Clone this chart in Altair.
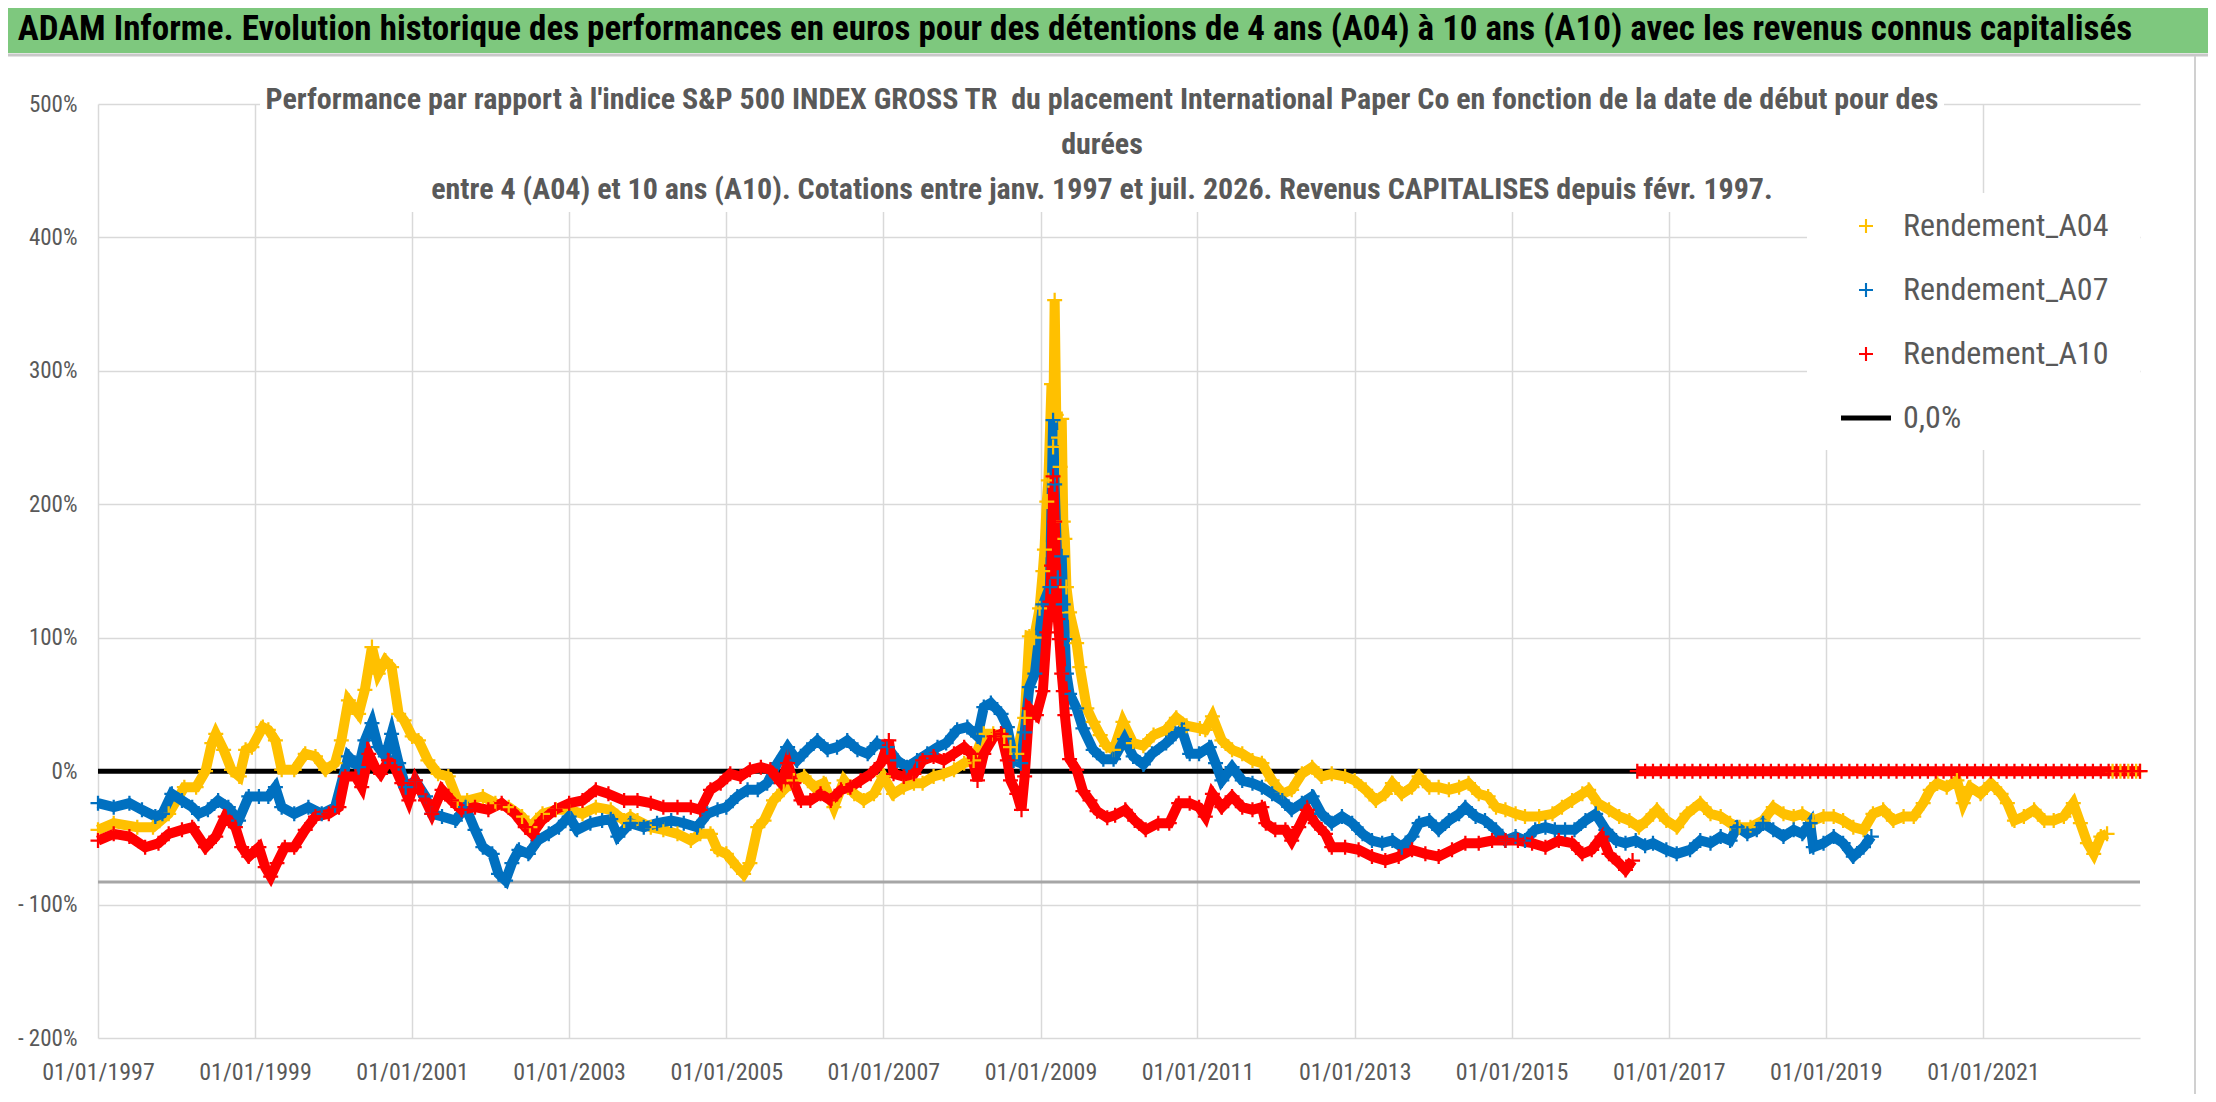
import altair as alt
import pandas as pd

# ---------------- texts ----------------
TITLE = ("ADAM Informe. Evolution historique des performances en euros pour des détentions "
         "de 4 ans (A04) à 10 ans (A10) avec les revenus connus capitalisés")
SUBTITLE_LINES = [
    "Performance par rapport à l'indice S&P 500 INDEX GROSS TR \u00a0du placement International Paper Co "
    "en fonction de la date de début pour des",
    "durées",
    "entre 4 (A04) et 10 ans (A10). Cotations entre janv. 1997 et juil. 2026. "
    "Revenus CAPITALISES depuis févr. 1997.",
]
SERIES = ["Rendement_A04", "Rendement_A07", "Rendement_A10", "0,0%"]
COLORS = ["#FFC000", "#0070C0", "#FF0000", "#000000"]
X_TICK_YEARS = [1997, 1999, 2001, 2003, 2005, 2007, 2009, 2011, 2013, 2015, 2017, 2019, 2021]
Y_TICKS = [-200, -100, 0, 100, 200, 300, 400, 500]
ZERO_LINE = [0]
GREY_LINE = [-83]

# ---------------- series (decimal year, % performance) ----------------
a04_t = [1997.0, 1997.2, 1997.5, 1997.7, 1997.9, 1998.1, 1998.25, 1998.37, 1998.45, 1998.5,
         1998.6, 1998.7, 1998.8, 1998.88, 1998.96, 1999.1, 1999.17, 1999.26, 1999.34, 1999.5,
         1999.64, 1999.77, 1999.9, 2000.02, 2000.1, 2000.19, 2000.32, 2000.4, 2000.49, 2000.57,
         2000.66, 2000.74, 2000.83, 2000.9, 2001.0, 2001.08, 2001.2, 2001.33, 2001.46, 2001.58,
         2001.7, 2001.9, 2002.06, 2002.23, 2002.4, 2002.5, 2002.66, 2002.83, 2003.0, 2003.17,
         2003.34, 2003.53, 2003.7, 2003.78, 2003.87, 2004.04, 2004.2, 2004.38, 2004.55, 2004.67,
         2004.8, 2004.89, 2005.0, 2005.14, 2005.22, 2005.3, 2005.4, 2005.48, 2005.6, 2005.73,
         2005.86, 2005.99, 2006.12, 2006.24, 2006.37, 2006.5, 2006.63, 2006.75, 2006.88, 2007.0,
         2007.13, 2007.26, 2007.39, 2007.5, 2007.64, 2007.77, 2007.9, 2008.03, 2008.15, 2008.28,
         2008.4, 2008.54, 2008.62, 2008.7, 2008.8, 2008.86, 2008.92, 2008.99, 2009.03, 2009.05,
         2009.08, 2009.1, 2009.14, 2009.16, 2009.18, 2009.2, 2009.23, 2009.25, 2009.27, 2009.29,
         2009.31, 2009.33, 2009.37, 2009.46, 2009.5, 2009.59, 2009.67, 2009.76, 2009.84, 2009.93,
         2010.05, 2010.18, 2010.31, 2010.44, 2010.6, 2010.73, 2010.86, 2011.03, 2011.1, 2011.19,
         2011.31, 2011.44, 2011.57, 2011.7, 2011.82, 2011.95, 2012.08, 2012.2, 2012.33, 2012.46,
         2012.58, 2012.71, 2012.88, 2013.0, 2013.14, 2013.27, 2013.39, 2013.48, 2013.6, 2013.73,
         2013.82, 2013.95, 2014.07, 2014.2, 2014.33, 2014.45, 2014.58, 2014.7, 2014.8, 2014.92,
         2015.05, 2015.17, 2015.35, 2015.52, 2015.64, 2015.77, 2015.9, 2015.98, 2016.1, 2016.24,
         2016.37, 2016.5, 2016.62, 2016.72, 2016.85, 2016.97, 2017.1, 2017.23, 2017.4, 2017.53,
         2017.66, 2017.78, 2017.9, 2018.04, 2018.2, 2018.33, 2018.46, 2018.59, 2018.7, 2018.84,
         2018.97, 2019.1, 2019.22, 2019.35, 2019.48, 2019.6, 2019.73, 2019.86, 2019.99, 2020.12,
         2020.24, 2020.33, 2020.42, 2020.54, 2020.67, 2020.75, 2020.84, 2020.97, 2021.1, 2021.23,
         2021.31, 2021.4, 2021.52, 2021.65, 2021.78, 2021.9, 2022.03, 2022.15, 2022.24, 2022.33,
         2022.41, 2022.5, 2022.58]
a04_v = [-44, -39, -42, -42, -32, -12, -12, 0, 21, 28,
         16, 1, -4, 16, 18, 33, 31, 23, 1, 1,
         13, 11, 1, 6, 23, 53, 43, 61, 93, 73,
         83, 78, 43, 38, 26, 23, 8, -2, -4, -22,
         -22, -19, -24, -27, -34, -42, -32, -29, -29, -32,
         -27, -29, -37, -34, -37, -42, -44, -47, -52, -47,
         -47, -59, -62, -72, -77, -69, -42, -37, -22, -14,
         -7, -4, -12, -9, -27, -7, -17, -22, -17, -4,
         -17, -12, -9, -9, -4, -2, 1, 6, 8, 28,
         28, 26, 18, 13, 40, 101, 100, 122, 150, 166,
         202, 218, 290, 243, 353, 267, 250, 228, 264, 187,
         174, 138, 119, 96, 78, 47, 37, 27, 19, 16,
         37, 21, 19, 27, 31, 40, 34, 32, 31, 41,
         23, 16, 13, 8, 6, -7, -17, -14, -2, 3,
         -4, -2, -4, -7, -14, -22, -17, -9, -17, -12,
         -4, -12, -12, -14, -12, -9, -17, -19, -27, -29,
         -32, -34, -34, -32, -27, -22, -17, -14, -24, -29,
         -34, -37, -42, -37, -29, -37, -42, -32, -24, -32,
         -34, -39, -42, -42, -37, -27, -32, -34, -32, -37,
         -34, -34, -37, -42, -44, -32, -29, -37, -34, -34,
         -24, -14, -9, -12, -7, -24, -12, -17, -9, -17,
         -24, -37, -34, -29, -37, -37, -34, -24, -39, -54,
         -62, -49, -47]
a04_tail_t = [2022.65, 2022.75, 2022.85, 2022.95, 2023.0]
a04_tail_v = [0, 0, 0, 0, 0]

a07_t = [1997.0, 1997.2, 1997.4, 1997.56, 1997.73, 1997.82, 1997.94, 1998.07, 1998.2, 1998.28,
         1998.4, 1998.53, 1998.66, 1998.79, 1998.92, 1999.05, 1999.17, 1999.26, 1999.34, 1999.5,
         1999.68, 1999.85, 2000.02, 2000.19, 2000.32, 2000.4, 2000.49, 2000.57, 2000.66, 2000.74,
         2000.83, 2000.92, 2001.04, 2001.17, 2001.25, 2001.38, 2001.55, 2001.68, 2001.8, 2001.9,
         2002.02, 2002.1, 2002.19, 2002.27, 2002.36, 2002.48, 2002.6, 2002.74, 2002.87, 2003.0,
         2003.1, 2003.27, 2003.42, 2003.53, 2003.62, 2003.78, 2003.95, 2004.12, 2004.3, 2004.46,
         2004.63, 2004.76, 2004.89, 2005.0, 2005.14, 2005.27, 2005.4, 2005.52, 2005.65, 2005.78,
         2005.9, 2006.03, 2006.16, 2006.29, 2006.41, 2006.54, 2006.67, 2006.8, 2006.92, 2007.05,
         2007.18, 2007.3, 2007.43, 2007.56, 2007.69, 2007.8, 2007.94, 2008.07, 2008.2, 2008.28,
         2008.37, 2008.5, 2008.58, 2008.66, 2008.75, 2008.8, 2008.86, 2008.93, 2009.03, 2009.12,
         2009.16, 2009.18, 2009.22, 2009.27, 2009.29, 2009.31, 2009.33, 2009.37, 2009.46, 2009.54,
         2009.67, 2009.8, 2009.93, 2010.07, 2010.18, 2010.31, 2010.42, 2010.6, 2010.72, 2010.8,
         2010.9, 2011.02, 2011.15, 2011.23, 2011.31, 2011.44, 2011.57, 2011.7, 2011.82, 2011.95,
         2012.08, 2012.2, 2012.33, 2012.46, 2012.58, 2012.71, 2012.84, 2012.97, 2013.1, 2013.22,
         2013.35, 2013.48, 2013.6, 2013.73, 2013.82, 2013.95, 2014.07, 2014.2, 2014.33, 2014.41,
         2014.54, 2014.66, 2014.8, 2014.92, 2015.05, 2015.17, 2015.3, 2015.43, 2015.55, 2015.68,
         2015.8, 2015.94, 2016.07, 2016.2, 2016.33, 2016.45, 2016.58, 2016.7, 2016.8, 2016.97,
         2017.1, 2017.27, 2017.4, 2017.53, 2017.66, 2017.78, 2017.87, 2018.0, 2018.12, 2018.2,
         2018.33, 2018.46, 2018.59, 2018.7, 2018.8, 2018.84, 2018.97, 2019.1, 2019.22, 2019.35,
         2019.48, 2019.58]
a07_v = [-24, -27, -24, -29, -34, -32, -17, -22, -27, -32,
         -29, -22, -27, -37, -19, -19, -19, -12, -27, -32,
         -27, -32, -27, 11, 3, 23, 36, 18, 11, 28,
         6, -12, -7, -19, -32, -34, -37, -27, -44, -57,
         -62, -77, -82, -69, -59, -62, -52, -47, -42, -34,
         -44, -39, -37, -36, -49, -39, -42, -39, -37, -39,
         -42, -32, -29, -27, -19, -14, -14, -9, 6, 18,
         8, 16, 23, 16, 18, 23, 16, 13, 21, 18,
         8, 3, 8, 13, 18, 21, 31, 33, 26, 48,
         51, 43, 33, 8, 6, 29, 63, 73, 125, 138,
         263, 215, 145, 161, 125, 99, 73, 58, 47, 32,
         16, 9, 9, 24, 11, 5, 13, 21, 28, 31,
         13, 13, 18, 6, -7, 3, -7, -9, -12, -17,
         -22, -29, -24, -19, -32, -39, -34, -39, -47, -52,
         -54, -52, -57, -49, -39, -37, -44, -37, -32, -27,
         -34, -37, -44, -52, -49, -52, -44, -42, -44, -44,
         -44, -37, -32, -44, -52, -54, -52, -56, -54, -59,
         -62, -59, -52, -54, -49, -52, -42, -47, -44, -39,
         -44, -49, -44, -47, -39, -57, -54, -49, -54, -64,
         -57, -49]

a10_t = [1997.0, 1997.2, 1997.4, 1997.6, 1997.77, 1997.9, 1998.07, 1998.2, 1998.37, 1998.5,
         1998.62, 1998.75, 1998.83, 1998.92, 1999.05, 1999.13, 1999.2, 1999.28, 1999.38, 1999.5,
         1999.64, 1999.77, 1999.94, 2000.07, 2000.15, 2000.28, 2000.36, 2000.45, 2000.53, 2000.6,
         2000.7, 2000.78, 2000.87, 2000.96, 2001.04, 2001.17, 2001.25, 2001.38, 2001.5, 2001.63,
         2001.8, 2001.97, 2002.14, 2002.31, 2002.44, 2002.53, 2002.65, 2002.82, 2003.0, 2003.17,
         2003.34, 2003.5, 2003.7, 2003.87, 2004.04, 2004.2, 2004.38, 2004.55, 2004.67, 2004.8,
         2004.93, 2005.05, 2005.18, 2005.3, 2005.44, 2005.56, 2005.7, 2005.78, 2005.86, 2005.95,
         2006.07, 2006.2, 2006.33, 2006.46, 2006.58, 2006.71, 2006.84, 2006.97, 2007.07, 2007.13,
         2007.26, 2007.39, 2007.5, 2007.64, 2007.77, 2007.9, 2008.03, 2008.12, 2008.2, 2008.28,
         2008.41, 2008.5, 2008.58, 2008.62, 2008.7, 2008.76, 2008.8, 2008.86, 2008.95, 2009.03,
         2009.08, 2009.12, 2009.14, 2009.16, 2009.18, 2009.22, 2009.24, 2009.27, 2009.29, 2009.31,
         2009.37, 2009.46, 2009.54, 2009.63, 2009.72, 2009.85, 2009.95, 2010.08, 2010.2, 2010.34,
         2010.5, 2010.64, 2010.76, 2010.9, 2011.02, 2011.1, 2011.19, 2011.31, 2011.44, 2011.57,
         2011.7, 2011.82, 2011.87, 2011.99, 2012.12, 2012.2, 2012.29, 2012.4, 2012.5, 2012.63,
         2012.71, 2012.88, 2013.05, 2013.22, 2013.39, 2013.56, 2013.73, 2013.9, 2014.07, 2014.24,
         2014.41, 2014.58, 2014.75, 2014.92, 2015.08, 2015.26, 2015.43, 2015.6, 2015.77, 2015.9,
         2016.02, 2016.15, 2016.24, 2016.37, 2016.45, 2016.54]
a10_v = [-52, -47, -49, -57, -54, -47, -44, -42, -57, -49,
         -34, -42, -57, -64, -57, -72, -79, -69, -57, -57,
         -44, -34, -32, -27, -4, -4, -12, 13, 3, -2,
         8, 3, -9, -22, -7, -22, -32, -14, -22, -29,
         -27, -29, -24, -32, -42, -47, -37, -29, -24, -22,
         -14, -17, -22, -22, -24, -27, -27, -27, -29, -14,
         -9, -2, -4, 1, 3, 1, -9, 6, -9, -22,
         -22, -17, -22, -14, -12, -7, -2, 6, 23, -2,
         -4, -2, 8, 11, 8, 13, 18, 13, -7, 13,
         26, 28, 8, -7, -17, -29, -4, 47, 42, 60,
         104, 127, 154, 221, 187, 114, 99, 73, 60, 42,
         9, 1, -15, -22, -30, -35, -33, -29, -37, -44,
         -39, -39, -24, -24, -27, -34, -17, -27, -19, -27,
         -29, -27, -39, -44, -44, -52, -42, -29, -39, -47,
         -57, -57, -59, -64, -67, -64, -59, -62, -64, -59,
         -54, -54, -52, -52, -52, -54, -57, -52, -54, -62,
         -59, -49, -62, -69, -74, -67]
a10_tail_t = [2016.6, 2016.7, 2016.8, 2016.9, 2017.0, 2017.1, 2017.2, 2017.3, 2017.4, 2017.5,
              2017.6, 2017.7, 2017.8, 2017.9, 2018.0, 2018.1, 2018.2, 2018.3, 2018.4, 2018.5,
              2018.6, 2018.7, 2018.8, 2018.9, 2019.0, 2019.1, 2019.2, 2019.3, 2019.4, 2019.5,
              2019.6, 2019.7, 2019.8, 2019.9, 2020.0, 2020.1, 2020.2, 2020.3, 2020.4, 2020.5,
              2020.6, 2020.7, 2020.8, 2020.9, 2021.0, 2021.1, 2021.2, 2021.3, 2021.4, 2021.5,
              2021.6, 2021.7, 2021.8, 2021.9, 2022.0, 2022.1, 2022.2, 2022.3, 2022.4, 2022.5,
              2022.6, 2022.7, 2022.8, 2022.9, 2023.0]
a10_tail_v = [0] * len(a10_tail_t)


def to_iso(y):
    year = int(y)
    ts = pd.Timestamp(year=year, month=1, day=1) + pd.Timedelta(days=(y - year) * 365.25)
    return ts.strftime("%Y-%m-%dT%H:%M:%S")


def frame(name, seg, ts, vs):
    return pd.DataFrame({"date": [to_iso(t) for t in ts], "value": vs,
                         "series": name, "seg": name + seg})


pts = pd.concat([
    frame(SERIES[0], "m", a04_t, a04_v),
    frame(SERIES[0], "t", a04_tail_t, a04_tail_v),
    frame(SERIES[1], "m", a07_t, a07_v),
    frame(SERIES[2], "m", a10_t, a10_v),
    frame(SERIES[2], "t", a10_tail_t, a10_tail_v),
], ignore_index=True)
pts["order"] = range(len(pts))

FONT = "Liberation Sans Narrow, Arial Narrow, Roboto Condensed, Liberation Sans, sans-serif"
GREY_TXT = "#595959"
W, H = 2042, 934

h = 0.15
PLUS = (f"M-1,-{h}L-{h},-{h}L-{h},-1L{h},-1L{h},-{h}L1,-{h}L1,{h}L{h},{h}L{h},1L-{h},1"
        f"L-{h},{h}L-1,{h}Z")
# legend swatch for the 0,0% line: ~50 px wide, 5 px thick at symbol size 196 (scale 7)
BAR = "M-3.57,-0.36L3.57,-0.36L3.57,0.36L-3.57,0.36Z"

x_enc = alt.X("date:T", title=None,
              scale=alt.Scale(domain=[alt.DateTime(year=1997, month=1, date=1),
                                      alt.DateTime(year=2023, month=1, date=1)]),
              axis=alt.Axis(values=[alt.DateTime(year=y, month=1, date=1) for y in X_TICK_YEARS],
                            format="%d/%m/%Y", labelFontSize=24, labelPadding=22,
                            labelOverlap=False, labelFlush=False, labelColor=GREY_TXT,
                            labelFont=FONT, ticks=False, domain=False,
                            grid=True, gridColor="#D9D9D9", gridWidth=1.5))
y_scale = alt.Scale(domain=[-200, 500], nice=False)
y_enc = alt.Y("value:Q", title=None, scale=y_scale,
              axis=alt.Axis(values=Y_TICKS, labelFontSize=23, labelPadding=21,
                            labelColor=GREY_TXT, labelFont=FONT, ticks=False, domain=False,
                            grid=True, gridColor="#D9D9D9", gridWidth=1.5,
                            labelExpr="datum.value < 0 ? '- ' + (-datum.value) + '%' : datum.value + '%'"))

color_scale = alt.Scale(domain=SERIES, range=COLORS)

title_df = pd.DataFrame({"t": [TITLE]})
sub_df = pd.DataFrame({"t": ["\n".join(SUBTITLE_LINES)]})

green_bar = alt.Chart(title_df).mark_rect(color="#7EC87E").encode(
    x=alt.value(-90), x2=alt.value(W + 68), y=alt.value(-96), y2=alt.value(-51))
bar_line = alt.Chart(title_df).mark_rule(color="#C8C8C8", strokeWidth=3).encode(
    x=alt.value(-90), x2=alt.value(W + 68), y=alt.value(-49))
right_border = alt.Chart(title_df).mark_rule(color="#D0D0D0", strokeWidth=2).encode(
    x=alt.value(2097), y=alt.value(-48), y2=alt.value(990))
title_txt = alt.Chart(title_df).mark_text(
    font=FONT, fontSize=35, fontWeight="bold", color="#000000", align="center",
    baseline="middle").encode(text="t:N", x=alt.value(977), y=alt.value(-75))

sub_box = alt.Chart(sub_df).mark_rect(color="white").encode(
    x=alt.value(162), x2=alt.value(1846), y=alt.value(-25), y2=alt.value(108))
sub_txt = alt.Chart(sub_df).mark_text(
    font=FONT, fontSize=30, fontWeight="bold", color=GREY_TXT, align="center",
    baseline="middle", lineBreak="\n", lineHeight=45).encode(
    text="t:N", x=alt.value(1004), y=alt.value(-4))

grey_rule = alt.Chart(pd.DataFrame({"value": GREY_LINE})).mark_rule(
    color="#A6A6A6", strokeWidth=3).encode(y=alt.Y("value:Q", scale=y_scale))
zero_rule = alt.Chart(pd.DataFrame({"value": ZERO_LINE})).mark_rule(
    color="#000000", strokeWidth=5).encode(y=alt.Y("value:Q", scale=y_scale))

# stroke scale uses only the three data series so its (hidden) legend is not merged
lines = alt.Chart(pts).mark_line(strokeWidth=10).encode(
    x=x_enc, y=y_enc,
    stroke=alt.Stroke("series:N", scale=alt.Scale(domain=SERIES[:3], range=COLORS[:3]),
                      legend=None),
    detail="seg:N", order="order:Q")

LEG = dict(orient="none", legendX=1738, legendY=92, title=None, zindex=2)
points = alt.Chart(pts).mark_point(filled=True, opacity=1, strokeWidth=0, size=225).encode(
    x=x_enc, y=y_enc,
    color=alt.Color("series:N", scale=color_scale,
                    legend=alt.Legend(**LEG, fillColor="white", padding=14, labelFont=FONT,
                                      labelFontSize=32, labelColor=GREY_TXT, labelOffset=21,
                                      labelLimit=500, rowPadding=32, symbolSize=196,
                                      symbolStrokeWidth=0)),
    shape=alt.Shape("series:N", scale=alt.Scale(domain=SERIES, range=[PLUS, PLUS, PLUS, BAR]),
                    legend=alt.Legend(**LEG)),
    order="order:Q")

legend_box = alt.Chart(title_df).mark_rect(color="white").encode(
    x=alt.value(1709), x2=alt.value(W), y=alt.value(89), y2=alt.value(346))

chart = alt.layer(
    green_bar, bar_line, right_border, title_txt, legend_box, grey_rule, zero_rule,
    lines, points, sub_box, sub_txt
).properties(
    width=W, height=H,
    padding={"left": 90, "top": 96, "right": 68, "bottom": 56},
    autosize=alt.AutoSizeParams(type="none"),
    background="white",
).configure_view(stroke=None)

chart.save("out.html", embed_options={"renderer": "svg", "actions": False})
